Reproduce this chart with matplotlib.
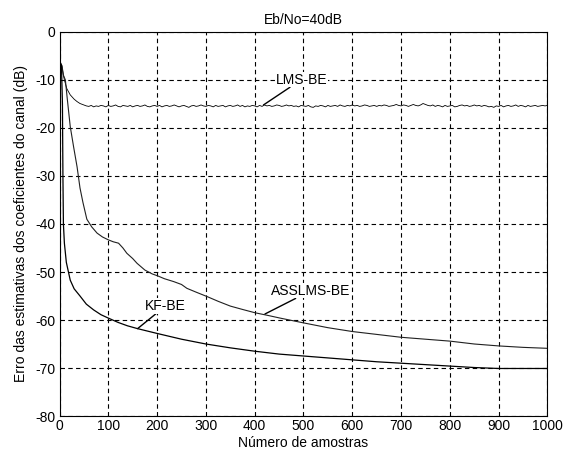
import numpy as np
import matplotlib

matplotlib.use("Agg")

import matplotlib.pyplot as plt

plt.rcParams.update({
    "font.family": "Liberation Sans",
    "font.size": 10,
    "axes.unicode_minus": False,
})

# LMS-BE : transitoire puis plancher bruite vers -15 dB
lms_head_n = [0, 2, 5, 8, 10, 15, 22, 30, 36, 42]
lms_head = [-7.5, -6.5, -7.2, -9.0, -10.0, -11.8, -13.1, -14.0, -14.5, -14.9]
lms_tail_n = np.arange(50, 1001, 5)
lms_tail = [
    -15.2, -15.4, -15.5, -15.3, -15.6, -15.4, -15.5, -15.3, -15.4, -15.6,
    -15.3, -15.5, -15.4, -15.2, -15.5, -15.6, -15.3, -15.4, -15.5, -15.3,
    -15.6, -15.4, -15.3, -15.5, -15.4, -15.2, -15.5, -15.6, -15.4, -15.3,
    -15.5, -15.3, -15.6, -15.4, -15.3, -15.5, -15.4, -15.2, -15.4, -15.6,
    -15.4, -15.3, -15.5, -15.7, -15.4, -15.3, -15.5, -15.4, -15.2, -15.4,
    -15.5, -15.3, -15.4, -15.6, -15.3, -15.5, -15.4, -15.3, -15.6, -15.4,
    -15.3, -15.5, -15.4, -15.2, -15.5, -15.3, -15.6, -15.4, -15.5, -15.3,
    -15.4, -15.6, -15.3, -15.5, -15.2, -15.4, -15.3, -15.5, -15.4, -15.2,
    -15.3, -15.5, -15.4, -15.2, -15.4, -15.3, -15.5, -15.4, -15.6, -15.3,
    -15.4, -15.5, -15.3, -15.6, -15.7, -15.4, -15.5, -15.3, -15.4, -15.6,
    -15.3, -15.5, -15.4, -15.3, -15.5, -15.2, -15.4, -15.5, -15.3, -15.4,
    -15.2, -15.4, -15.3, -15.5, -15.4, -15.2, -15.3, -15.5, -15.4, -15.3,
    -15.5, -15.3, -15.4, -15.2, -15.3, -15.5, -15.4, -15.3, -15.1, -15.3,
    -15.4, -15.2, -15.3, -15.5, -15.3, -15.1, -15.3, -15.4, -15.2, -14.9,
    -15.1, -15.3, -15.4, -15.2, -15.5, -15.3, -15.4, -15.6, -15.3, -15.5,
    -15.4, -15.3, -15.6, -15.5, -15.3, -15.2, -15.4, -15.3, -15.5, -15.4,
    -15.2, -15.4, -15.3, -15.5, -15.3, -15.4, -15.6, -15.5, -15.7, -15.4,
    -15.5, -15.3, -15.6, -15.4, -15.3, -15.5, -15.4, -15.2, -15.5, -15.3,
    -15.4, -15.6, -15.3, -15.5, -15.4, -15.3, -15.5, -15.4, -15.3, -15.4,
    -15.3,
]

asslms_n = [0, 2, 5, 8, 12, 16, 22, 29, 36, 42, 48, 56, 66, 77, 88, 100,
            110, 121, 130, 138, 150, 159, 175, 190, 201, 215, 234, 250, 261,
            280, 302, 325, 350, 375, 401, 425, 452, 500, 550, 600, 650, 700,
            750, 800, 850, 900, 950, 1000]
asslms = [-7.5, -6.5, -7.0, -9.0, -10.0, -14.0, -19.7, -24.0, -28.1, -32.5,
          -35.5, -39.0, -40.6, -41.9, -42.7, -43.3, -43.7, -44.0, -45.0,
          -46.1, -47.2, -48.2, -49.6, -50.4, -50.8, -51.4, -52.0, -52.6,
          -53.4, -54.2, -55.1, -56.1, -57.1, -57.8, -58.5, -59.0, -59.6,
          -60.6, -61.6, -62.4, -63.0, -63.6, -64.0, -64.4, -65.0, -65.4,
          -65.7, -65.9]

kf_n = [0, 2, 4, 6, 7, 8, 10, 14, 22, 30, 42, 55, 70, 85, 100, 120, 139,
        160, 180, 200, 250, 300, 350, 400, 450, 500, 550, 600, 650, 700,
        750, 800, 850, 900, 950, 1000]
kf = [-7.5, -6.5, -7.0, -15.0, -30.0, -40.0, -44.0, -48.0, -51.7, -53.5,
      -55.0, -56.7, -57.9, -58.9, -59.6, -60.5, -61.2, -61.8, -62.3, -62.8,
      -64.0, -65.0, -65.8, -66.5, -67.1, -67.5, -67.9, -68.3, -68.7, -69.0,
      -69.3, -69.6, -69.9, -70.1, -70.1, -70.1]

x_ticks = list(range(0, 1001, 100))
y_ticks = list(range(-80, 1, 10))

fig = plt.figure(figsize=(5.7, 4.57), dpi=100)
ax = fig.add_axes([0.1044, 0.0897, 0.8561, 0.8403])

ax.plot(np.concatenate([lms_head_n, lms_tail_n]), lms_head + lms_tail,
        color='black', lw=0.6)
ax.plot(asslms_n, asslms, color='#202020', lw=0.8)
ax.plot(kf_n, kf, color='black', lw=0.9)

ax.set_xlim(0, 1000)
ax.set_ylim(-80, 0)
ax.set_xticks(x_ticks)
ax.set_yticks(y_ticks)
ax.grid(True, color='black', linestyle=(0, (4, 3)), linewidth=0.8)
ax.tick_params(direction='in', length=3, width=0.7)
ax.tick_params(axis='x', pad=2.5)
ax.tick_params(axis='y', pad=3)
for s in ax.spines.values():
    s.set_linewidth(0.8)

ax.set_title('Eb/No=40dB', fontsize=10, pad=6)
ax.set_xlabel(u'Número de amostras', labelpad=2)
ax.set_ylabel('Erro das estimativas dos coeficientes do canal (dB)', labelpad=5)

# etiquettes des courbes, avec un trait vers la courbe
boite = dict(fc='white', ec='none', pad=0.5)
fleche = dict(arrowstyle='-', color='black', lw=1.0, shrinkA=0, shrinkB=0)
ax.annotate('LMS-BE', xy=(418, -15.2), xytext=(496, -9.9), ha='center',
            va='center', bbox=boite, arrowprops=fleche)
ax.annotate('ASSLMS-BE', xy=(421, -58.75), xytext=(515, -53.9), ha='center',
            va='center', bbox=boite, arrowprops=fleche)
ax.annotate('KF-BE', xy=(160, -61.8), xytext=(217, -57.1), ha='center',
            va='center', bbox=boite, arrowprops=fleche)

fig.savefig('out.png', dpi=100)
